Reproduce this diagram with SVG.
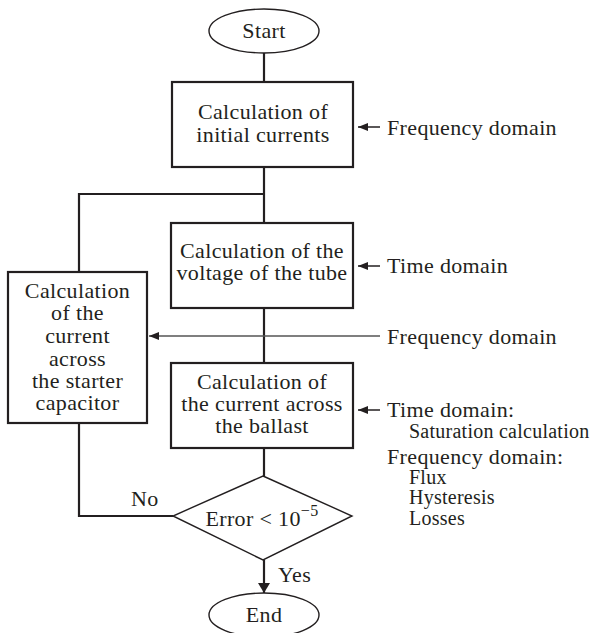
<svg xmlns="http://www.w3.org/2000/svg" width="592" height="633" viewBox="0 0 592 633">
<defs>
<style>
.t{font-family:"Liberation Serif","Times New Roman",serif;font-size:22px;letter-spacing:0.35px;fill:#231f20;text-anchor:middle}
.l{font-family:"Liberation Serif","Times New Roman",serif;font-size:22px;letter-spacing:0.35px;fill:#231f20}
.s{font-family:"Liberation Serif","Times New Roman",serif;font-size:20px;letter-spacing:0.25px;fill:#231f20}
.box{fill:#fff;stroke:#231f20;stroke-width:2.2}
.thin{fill:#fff;stroke:#231f20;stroke-width:1.4}
.c{fill:none;stroke:#231f20;stroke-width:2.2}
.g{fill:none;stroke:#555;stroke-width:1.5}
.a{fill:none;stroke:#231f20;stroke-width:1.5}
</style>
<marker id="ah" viewBox="0 0 10 8" refX="10" refY="4" markerWidth="10" markerHeight="8" markerUnits="userSpaceOnUse" orient="auto">
<path d="M0,0 L10,4 L0,8 Z" fill="#231f20"/>
</marker>
<marker id="ah2" viewBox="0 0 10 12" refX="10" refY="6" markerWidth="10" markerHeight="12" markerUnits="userSpaceOnUse" orient="auto">
<path d="M0,0 L10,6 L0,12 Z" fill="#231f20"/>
</marker>
</defs>
<g id="connectors">
<line class="c" x1="264" y1="53" x2="264" y2="82"/>
<polyline class="c" points="264,167 264,223"/>
<polyline class="c" points="264,194 79,194 79,272"/>
<line class="c" x1="264" y1="308" x2="264" y2="363"/>
<line class="c" x1="264" y1="448" x2="264" y2="476"/>
<polyline class="c" points="79,423 79,516 173,516"/>
<line class="c" x1="264" y1="560" x2="264" y2="593" marker-end="url(#ah2)"/>
<line class="g" x1="380" y1="336" x2="149" y2="336" marker-end="url(#ah)"/>
<line class="a" x1="380" y1="127" x2="358" y2="127" marker-end="url(#ah)"/>
<line class="a" x1="380" y1="266" x2="358" y2="266" marker-end="url(#ah)"/>
<line class="a" x1="380" y1="410" x2="358" y2="410" marker-end="url(#ah)"/>
</g>
<g id="start">
<ellipse class="thin" cx="264" cy="31" rx="55" ry="22"/>
<text class="t" x="264" y="38">Start</text>
</g>
<g id="initial">
<rect class="box" x="172" y="82" width="181" height="85"/>
<text class="t" x="263" y="119">Calculation of</text>
<text class="t" x="263" y="142">initial currents</text>
</g>
<g id="voltage">
<rect class="box" x="171" y="223" width="182" height="85"/>
<text class="t" x="262" y="258">Calculation of the</text>
<text class="t" x="262" y="280">voltage of the tube</text>
</g>
<g id="starter">
<rect class="box" x="8" y="272" width="139" height="151"/>
<text class="t" x="77.5" y="298">Calculation</text>
<text class="t" x="77.5" y="320">of the</text>
<text class="t" x="77.5" y="343">current</text>
<text class="t" x="77.5" y="366">across</text>
<text class="t" x="77.5" y="388">the starter</text>
<text class="t" x="77.5" y="410">capacitor</text>
</g>
<g id="ballast">
<rect class="box" x="171" y="363" width="182" height="85"/>
<text class="t" x="262" y="389">Calculation of</text>
<text class="t" x="262" y="411">the current across</text>
<text class="t" x="262" y="433">the ballast</text>
</g>
<g id="decision">
<polygon class="thin" points="263,476 352,516 263,560 173,516"/>
<text class="t" x="262" y="526">Error &lt; 10<tspan font-size="16" dy="-10">−5</tspan></text>
</g>
<g id="end">
<ellipse class="thin" cx="264" cy="615" rx="55" ry="22"/>
<text class="t" x="264" y="622">End</text>
</g>
<g id="labels">
<text class="l" x="387" y="135">Frequency domain</text>
<text class="l" x="387" y="273">Time domain</text>
<text class="l" x="387" y="344">Frequency domain</text>
<text class="l" x="387" y="417">Time domain:</text>
<text class="s" x="409" y="438">Saturation calculation</text>
<text class="l" x="387" y="464">Frequency domain:</text>
<text class="s" x="409" y="484">Flux</text>
<text class="s" x="409" y="504">Hysteresis</text>
<text class="s" x="409" y="525">Losses</text>
<text class="l" x="131" y="506">No</text>
<text class="l" x="278" y="582">Yes</text>
</g>
</svg>
